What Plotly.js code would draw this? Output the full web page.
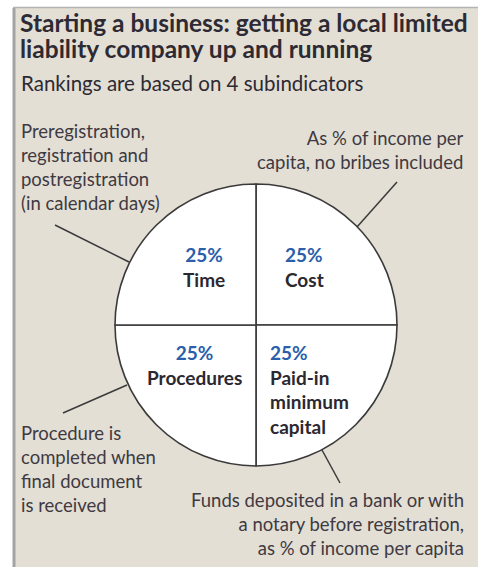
<!DOCTYPE html>
<html>
<head>
<meta charset="utf-8">
<script src="https://cdn.plot.ly/plotly-3.0.1.min.js"></script>
<style>html,body{margin:0;padding:0;background:#fff;}#chart{width:478px;height:567px;}</style>
</head>
<body>
<div id="chart"></div>
<script>
// ---- data ----
var categories = ['Time', 'Cost', 'Paid-in<br>minimum<br>capital', 'Procedures'];
var weights = [25, 25, 25, 25];
var titleLines = ['Starting a business: getting a local limited', 'liability company up and running'];
var subtitle = 'Rankings are based on 4 subindicators';
var notes = [
  'Preregistration,<br>registration and<br>postregistration<br>(in calendar days)',
  'As % of income per<br>capita, no bribes included',
  'Funds deposited in a bank or with<br>a notary before registration,<br>as % of income per capita',
  'Procedure is<br>completed when<br>final document<br>is received'
];

// ---- layout helpers ----
var W = 478, H = 567;
function px(x) { return x / W; }
function py(y) { return 1 - y / H; }

var cx = 256, cy = 325, R = 141;
var FONT = 'Lato, "Open Sans", sans-serif';
var blue = '#2b5fab', dark = '#2b2830', noteCol = '#3f3a42';

var trace = {
  type: 'pie',
  values: weights,
  labels: categories,
  sort: false,
  direction: 'clockwise',
  rotation: 0,
  textinfo: 'none',
  hoverinfo: 'label+percent',
  marker: { colors: categories.map(function () { return '#ffffff'; }), line: { color: '#3a3a3a', width: 1.6 } },
  domain: { x: [px(cx - R), px(cx + R)], y: [py(cy + R), py(cy - R)] },
  showlegend: false
};

// slice label placement: [x, y(top), xanchor]
var slicePos = [
  [204, 241, 'center'],
  [283, 241, 'left'],
  [268, 339, 'left'],
  [194, 339, 'center']
];

var annotations = [];
categories.forEach(function (c, i) {
  var p = slicePos[i];
  annotations.push({
    xref: 'paper', yref: 'paper', x: px(p[0]), y: py(p[1]), xanchor: p[2], yanchor: 'top',
    text: '<span style="color:' + blue + '">' + weights[i] + '%</span><br>' + c,
    showarrow: false, align: p[2] === 'left' ? 'left' : 'center',
    font: { family: FONT, size: 19, color: dark, weight: 'bold' }
  });
});

// titles
var titleTops = [6.5, 32.5];
titleLines.forEach(function (t, i) {
  annotations.push({
    xref: 'paper', yref: 'paper', x: px(19), y: py(titleTops[i]), xanchor: 'left', yanchor: 'top',
    text: '<b>' + t + '</b>', showarrow: false, align: 'left', borderpad: 0,
    font: { family: FONT, size: 24.5, color: '#2d2a33' }
  });
});
annotations.push({
  xref: 'paper', yref: 'paper', x: px(19), y: py(69), xanchor: 'left', yanchor: 'top',
  text: subtitle, showarrow: false, align: 'left',
  font: { family: FONT, size: 20.5, color: '#2d2a33' }
});

// notes: [x, y(top), xanchor]
var notePos = [
  [19, 118, 'left'],
  [466, 125, 'right'],
  [466, 487, 'right'],
  [19, 420, 'left']
];
notes.forEach(function (t, i) {
  var p = notePos[i];
  annotations.push({
    xref: 'paper', yref: 'paper', x: px(p[0]), y: py(p[1]), xanchor: p[2], yanchor: 'top',
    text: t, showarrow: false, align: p[2],
    font: { family: FONT, size: 18.5, color: noteCol }
  });
});

// leader lines [x0,y0,x1,y1]
var leaders = [
  [55, 225, 129, 262],
  [397, 182, 357, 227],
  [322, 450, 340, 483],
  [63, 413, 127, 385]
];
var shapes = [
  { type: 'rect', xref: 'paper', yref: 'paper', x0: px(14), x1: 1, y0: 0, y1: py(8), fillcolor: '#e3dfd5', line: { width: 0 }, layer: 'below' },
  { type: 'line', xref: 'paper', yref: 'paper', x0: px(14), x1: px(14), y0: 0, y1: py(8), line: { color: '#a3a3a3', width: 3 } },
  { type: 'line', xref: 'paper', yref: 'paper', x0: px(13), x1: 1, y0: py(7.5), y1: py(7.5), line: { color: '#b4b4b4', width: 1.5 } }
];
leaders.forEach(function (l) {
  shapes.push({ type: 'line', xref: 'paper', yref: 'paper', x0: px(l[0]), y0: py(l[1]), x1: px(l[2]), y1: py(l[3]), line: { color: '#3a3a3a', width: 1.5 } });
});

var layout = {
  width: W, height: H,
  margin: { l: 0, r: 0, t: 0, b: 0 },
  paper_bgcolor: '#ffffff',
  plot_bgcolor: 'rgba(0,0,0,0)',
  annotations: annotations,
  shapes: shapes,
  showlegend: false
};

Plotly.newPlot('chart', [trace], layout, { displayModeBar: false, staticPlot: true });
</script>
</body>
</html>
